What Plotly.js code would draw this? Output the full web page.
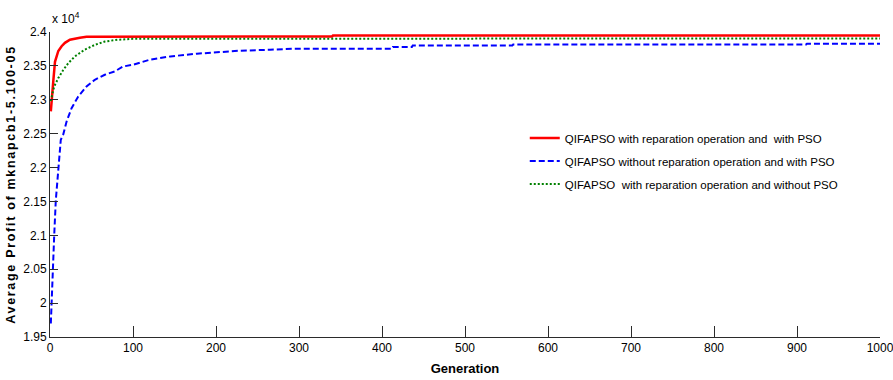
<!DOCTYPE html>
<html>
<head>
<meta charset="utf-8">
<script src="https://cdn.plot.ly/plotly-3.0.1.min.js"></script>
<style>
  html, body { margin: 0; padding: 0; background: #fff; }
  #chart { width: 893px; height: 380px; }
</style>
</head>
<body>
<div id="chart"></div>
<script>
// Average profit per generation on mknapcb1-5.100-05 (three QIFAPSO variants)
const seriesNames = [
  "QIFAPSO with reparation operation and\u00a0\u00a0with PSO",
  "QIFAPSO without reparation operation and with PSO",
  "QIFAPSO\u00a0\u00a0with reparation operation and without PSO"
];

// red: with reparation, with PSO
const redGen    = [1, 2, 4, 6, 8, 10, 14, 18, 24, 30, 36, 44, 340, 341, 1000];
const redProfit = [22830, 22950, 23280, 23560, 23640, 23720, 23790, 23840, 23886, 23905, 23915, 23930, 23935, 23950, 23950];

// blue: without reparation, with PSO
const blueGen    = [1, 2, 3, 5, 7, 10, 13, 16, 20, 26, 34, 44, 54, 66, 78, 88, 100, 120, 145, 177, 205, 229, 265, 293, 412, 413, 436, 437, 557, 558, 911, 912, 1000];
const blueProfit = [19700, 20090, 20486, 20978, 21520, 22013, 22410, 22490, 22680, 22876, 23048, 23196, 23295, 23369, 23418, 23491, 23517, 23590, 23640, 23680, 23700, 23724, 23738, 23753, 23753, 23778, 23778, 23800, 23800, 23815, 23815, 23828, 23828];

// green: with reparation, without PSO
const greenGen    = [1, 2, 4, 6, 10, 16, 22, 30, 42, 54, 66, 82, 100, 1000];
const greenProfit = [22980, 23050, 23150, 23220, 23320, 23440, 23540, 23640, 23740, 23810, 23860, 23886, 23900, 23905];

// axis ticks
const xTicks = [0, 100, 200, 300, 400, 500, 600, 700, 800, 900, 1000];
const yTickVals = [19500, 20000, 20500, 21000, 21500, 22000, 22500, 23000, 23500, 24000];
const yTickText = ["1.95", "2", "2.05", "2.1", "2.15", "2.2", "2.25", "2.3", "2.35", "2.4"];

const FONT = "'Liberation Sans Narrow', 'Arial Narrow', 'Liberation Sans', Arial, sans-serif";
const AXIS_COLOR = "#2b2b2b";

const traces = [
  {
    x: redGen, y: redProfit, name: seriesNames[0], type: "scatter", mode: "lines",
    line: { color: "#ff0000", width: 2.5 }, legendgroup: "a"
  },
  {
    x: blueGen, y: blueProfit, name: seriesNames[1], type: "scatter", mode: "lines",
    line: { color: "#0000ff", width: 2, dash: "6px,3px" }, legendgroup: "b"
  },
  {
    x: greenGen, y: greenProfit, name: seriesNames[2], type: "scatter", mode: "lines",
    line: { color: "#008000", width: 2, dash: "2px,2px" }, legendgroup: "c"
  }
];

const layout = {
  width: 893, height: 380,
  margin: { l: 50, r: 13, t: 32, b: 43, pad: 0 },
  paper_bgcolor: "#ffffff", plot_bgcolor: "#ffffff",
  font: { family: FONT, size: 12, color: "#000" },
  showlegend: true,
  legend: {
    x: 0.572, y: 0.70, xanchor: "left", yanchor: "top",
    bgcolor: "rgba(255,255,255,0)", borderwidth: 0,
    font: { family: FONT, size: 11.5, color: "#000" },
    traceorder: "grouped", tracegroupgap: 4, itemwidth: 30
  },
  xaxis: {
    range: [0, 1000], tickvals: xTicks, ticktext: xTicks.map(String),
    showgrid: false, zeroline: false, showline: true, linecolor: AXIS_COLOR, linewidth: 1,
    ticks: "inside", ticklen: 11, tickcolor: AXIS_COLOR, tickwidth: 1,
    ticklabeloverflow: "allow",
    tickfont: { family: FONT, size: 12, color: "#000" },
    title: { text: "<b>Generation</b>", font: { family: FONT, size: 13, color: "#000" }, standoff: 9 }
  },
  yaxis: {
    range: [19500, 24000], tickvals: yTickVals, ticktext: yTickText,
    showgrid: false, zeroline: false, showline: true, linecolor: AXIS_COLOR, linewidth: 1,
    ticks: "inside", ticklen: 8, tickcolor: AXIS_COLOR, tickwidth: 1,
    ticklabeloverflow: "allow",
    tickfont: { family: FONT, size: 12, color: "#000" },
    title: { text: "<b>Average Profit of mknapcb1-5.100-05</b>", font: { family: FONT, size: 12.5, color: "#000" }, standoff: 4 }
  },
  annotations: [
    {
      xref: "paper", yref: "paper", x: 0, y: 1, xanchor: "left", yanchor: "bottom",
      yshift: 4, xshift: 0, showarrow: false,
      text: "x 10<sup>4</sup>", font: { family: FONT, size: 12, color: "#000" }
    }
  ]
};

Plotly.newPlot("chart", traces, layout, { displayModeBar: false, staticPlot: true }).then(function () {
  const yt = document.querySelector(".ytitle");
  if (yt) yt.style.letterSpacing = "1.7px";
});
</script>
</body>
</html>
